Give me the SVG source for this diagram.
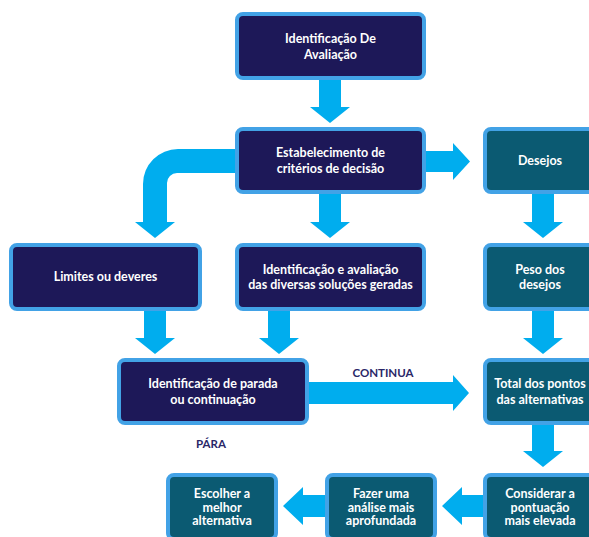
<svg xmlns="http://www.w3.org/2000/svg" width="589" height="537" viewBox="0 0 589 537">
  <style>
    .box { stroke: #42a2e6; stroke-width: 4; }
    .navy { fill: #1d1858; }
    .teal { fill: #0b5a72; }
    .t { font-family: Lato, "Open Sans", "Liberation Sans", sans-serif; font-weight: bold; font-size: 12.5px; fill: #ffffff; text-anchor: middle; }
    .lbl { font-family: Lato, "Open Sans", "Liberation Sans", sans-serif; font-weight: bold; font-size: 11.5px; fill: #2a2768; text-anchor: middle; }
    .arrow { fill: #00adee; }
  </style>
  <rect width="589" height="537" fill="#ffffff"/>

  <!-- connectors -->
  <g id="connectors" class="arrow">
    <!-- Identificação De Avaliação -> Estabelecimento -->
    <polygon points="319,80 341,80 341,107 350,107 330,123 310,107 319,107"/>
    <!-- Estabelecimento -> Identificação e avaliação -->
    <polygon points="319,194 341,194 341,222 350,222 330,238 310,222 319,222"/>
    <!-- Estabelecimento -> Limites (bent) -->
    <path d="M236,149 H178 A35,35 0 0 0 143,184 V222 H135 L155,238 L175,222 H167 V183 A10,10 0 0 1 177,173 H236 Z"/>
    <!-- Estabelecimento -> Desejos -->
    <polygon points="426,151 453,151 453,143 470,161.5 453,180 453,172 426,172"/>
    <!-- Desejos -> Peso -->
    <polygon points="532,194 554,194 554,222 563,222 543,238 523,222 532,222"/>
    <!-- Limites -> parada -->
    <polygon points="144,311 166,311 166,338 175,338 155,354 135,338 144,338"/>
    <!-- Identificação e avaliação -> parada -->
    <polygon points="268,311 290,311 290,338 299,338 279,354 259,338 268,338"/>
    <!-- Peso -> Total -->
    <polygon points="532,311 554,311 554,338 563,338 543,354 523,338 532,338"/>
    <!-- parada -> Total (CONTINUA) -->
    <polygon points="309,382 453,382 453,375 469,393 453,411 453,404 309,404"/>
    <!-- Total -> Considerar -->
    <polygon points="532,425 554,425 554,451 563,451 543,467 523,451 532,451"/>
    <!-- Considerar -> Fazer -->
    <polygon points="483,495 462,495 462,487 442,506 462,525 462,517 483,517"/>
    <!-- Fazer -> Escolher -->
    <polygon points="325,495 303,495 303,487 283,506 303,525 303,517 325,517"/>
  </g>

  <g id="label-continua"><text class="lbl" x="383" y="377">CONTINUA</text></g>
  <g id="label-para"><text class="lbl" x="211" y="448">PÁRA</text></g>

  <g id="n-identificacao">
    <rect class="box navy" x="237" y="14" width="187" height="64" rx="6"/>
    <text class="t" x="330.5" y="43">Identificação De</text>
    <text class="t" x="330.5" y="58.5">Avaliação</text>
  </g>
  <g id="n-criterios">
    <rect class="box navy" x="237" y="129" width="187" height="63" rx="6"/>
    <text class="t" x="330.5" y="157">Estabelecimento de</text>
    <text class="t" x="330.5" y="172.5">critérios de decisão</text>
  </g>
  <g id="n-desejos">
    <rect class="box teal" x="485" y="129" width="110" height="63" rx="6"/>
    <text class="t" x="540" y="165">Desejos</text>
  </g>
  <g id="n-limites">
    <rect class="box navy" x="11" y="245" width="189" height="64" rx="6"/>
    <text class="t" x="105.5" y="281">Limites ou deveres</text>
  </g>
  <g id="n-solucoes">
    <rect class="box navy" x="237" y="245" width="187" height="64" rx="6"/>
    <text class="t" x="330.5" y="273.5">Identificação e avaliação</text>
    <text class="t" x="330.5" y="289">das diversas soluções geradas</text>
  </g>
  <g id="n-peso">
    <rect class="box teal" x="485" y="245" width="110" height="64" rx="6"/>
    <text class="t" x="540" y="273.5">Peso dos</text>
    <text class="t" x="540" y="289">desejos</text>
  </g>
  <g id="n-parada">
    <rect class="box navy" x="119" y="360" width="188" height="63" rx="6"/>
    <text class="t" x="213" y="388">Identificação de parada</text>
    <text class="t" x="213" y="403.5">ou continuação</text>
  </g>
  <g id="n-total">
    <rect class="box teal" x="485" y="360" width="110" height="63" rx="6"/>
    <text class="t" x="540" y="388">Total dos pontos</text>
    <text class="t" x="540" y="403.5">das alternativas</text>
  </g>
  <g id="n-escolher">
    <rect class="box teal" x="168" y="475" width="108" height="64" rx="6"/>
    <text class="t" x="222" y="498">Escolher a</text>
    <text class="t" x="222" y="511.5">melhor</text>
    <text class="t" x="222" y="525">alternativa</text>
  </g>
  <g id="n-fazer">
    <rect class="box teal" x="327" y="475" width="108" height="64" rx="6"/>
    <text class="t" x="381" y="498">Fazer uma</text>
    <text class="t" x="381" y="511.5">análise mais</text>
    <text class="t" x="381" y="525">aprofundada</text>
  </g>
  <g id="n-considerar">
    <rect class="box teal" x="485" y="475" width="110" height="64" rx="6"/>
    <text class="t" x="540" y="498">Considerar a</text>
    <text class="t" x="540" y="511.5">pontuação</text>
    <text class="t" x="540" y="525">mais elevada</text>
  </g>
</svg>
